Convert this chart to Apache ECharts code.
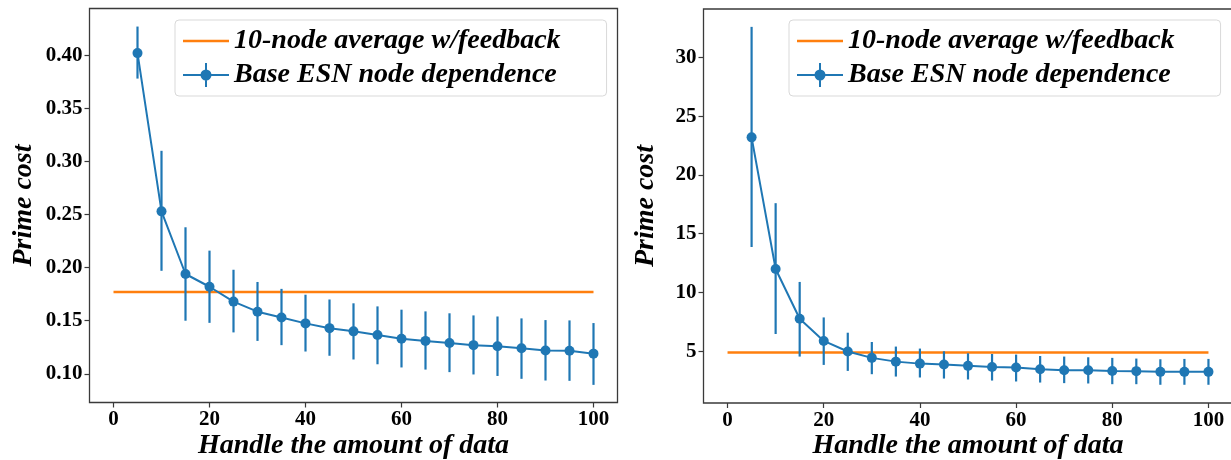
<!DOCTYPE html>
<html>
<head>
<meta charset="utf-8">
<script src="https://cdn.jsdelivr.net/npm/echarts@6/dist/echarts.min.js"></script>
<style>
html,body{margin:0;padding:0;background:#fff;}
#chart{width:1231px;height:460px;}
</style>
</head>
<body>
<div id="chart"></div>
<script>
// ---- data ----
const xValues = [5,10,15,20,25,30,35,40,45,50,55,60,65,70,75,80,85,90,95,100];
const avgX = [0, 100];

const leftMean = [0.402,0.253,0.194,0.182,0.168,0.1585,0.153,0.1475,0.143,0.140,0.1365,0.133,0.131,0.129,0.127,0.126,0.124,0.122,0.1217,0.119];
const leftLow  = [0.378,0.197,0.150,0.148,0.139,0.131,0.127,0.121,0.117,0.1135,0.109,0.106,0.104,0.1016,0.0994,0.098,0.0953,0.0937,0.0934,0.0896];
const leftHigh = [0.427,0.310,0.238,0.216,0.198,0.1865,0.180,0.1745,0.170,0.1664,0.1635,0.1604,0.1588,0.157,0.155,0.154,0.1522,0.1506,0.1503,0.1478];
const leftAvg = 0.177;

const rightMean = [23.2,12.0,7.77,5.88,4.98,4.44,4.12,3.95,3.87,3.76,3.67,3.62,3.47,3.39,3.39,3.33,3.31,3.25,3.25,3.25];
const rightLow  = [13.87,6.47,4.55,3.84,3.33,3.05,2.85,2.77,2.68,2.60,2.51,2.43,2.34,2.29,2.26,2.20,2.20,2.15,2.15,2.15];
const rightHigh = [32.6,17.6,10.9,7.88,6.58,5.79,5.40,5.23,5.00,4.83,4.77,4.72,4.60,4.55,4.49,4.44,4.38,4.32,4.35,4.35];
const rightAvg = 4.89;

const xTicks = [0,20,40,60,80,100];
const leftTicks = [0.10,0.15,0.20,0.25,0.30,0.35,0.40];
const rightTicks = [5,10,15,20,25,30];

const avgName = '10-node average w/feedback';
const baseName = 'Base ESN node dependence';
const xTitle = 'Handle the amount of data';
const yTitle = 'Prime cost';

// ---- styles ----
const BLUE = '#1f77b4', ORANGE = '#ff7f0e', FRAME = '#3a3a3a';
const SERIF = '"Liberation Serif", "DejaVu Serif", serif';

const chart = echarts.init(document.getElementById('chart'), null, {renderer: 'canvas'});

function zip(a, b) { return a.map((v, i) => [v, b[i]]); }
function zip3(a, b, c) { return a.map((v, i) => [v, b[i], c[i]]); }

function xAxis(gi) {
  return {
    type: 'value', gridIndex: gi, min: -5, max: 105,
    splitLine: {show: false},
    axisLine: {show: false, onZero: false},
    axisTick: {show: true, length: 5, customValues: xTicks, lineStyle: {color: FRAME, width: 1.2}},
    axisLabel: {customValues: xTicks, margin: 7, color: '#000', fontFamily: SERIF, fontWeight: 'bold', fontSize: 21},
    name: xTitle, nameLocation: 'middle', nameGap: 29, nameMoveOverlap: false,
    nameTextStyle: {color: '#000', fontFamily: SERIF, fontWeight: 'bold', fontStyle: 'italic', fontSize: 28}
  };
}
function yAxis(gi, min, max, ticks, fmt, gap) {
  return {
    type: 'value', gridIndex: gi, min: min, max: max,
    splitLine: {show: false},
    axisLine: {show: false, onZero: false},
    axisTick: {show: true, length: 5, customValues: ticks, lineStyle: {color: FRAME, width: 1.2}},
    axisLabel: {customValues: ticks, margin: 7, color: '#000', fontFamily: SERIF, fontWeight: 'bold', fontSize: 21, formatter: fmt},
    name: yTitle, nameLocation: 'middle', nameGap: gap, nameMoveOverlap: false,
    nameTextStyle: {color: '#000', fontFamily: SERIF, fontWeight: 'bold', fontStyle: 'italic', fontSize: 28}
  };
}

function errorRender(params, api) {
  const x = api.value(0);
  const p1 = api.coord([x, api.value(1)]);
  const p2 = api.coord([x, api.value(2)]);
  return {type: 'line', shape: {x1: p1[0], y1: p1[1], x2: p2[0], y2: p2[1]},
          style: {stroke: BLUE, lineWidth: 2.2}};
}

const errIcon = 'path://M0,11 L46,11 L46,13 L0,13 Z M22,0 L24,0 L24,24 L22,24 Z M17.5,12 A5.5,5.5 0 1,1 28.5,12 A5.5,5.5 0 1,1 17.5,12 Z';
const lineIcon = 'path://M0,0 L46,0 L46,2.5 L0,2.5 Z';

function legend(left) {
  return {
    left: left, top: 20, orient: 'vertical',
    padding: [7, 46, 7, 8], itemGap: 6,
    itemWidth: 46, itemHeight: 24, symbolKeepAspect: true,
    backgroundColor: '#fff', borderColor: '#d9d9d9', borderWidth: 1, borderRadius: 4,
    itemStyle: {borderWidth: 0},
    textStyle: {color: '#000', fontFamily: SERIF, fontWeight: 'bold', fontStyle: 'italic', fontSize: 28, padding: [0,0,0,0]},
    selectedMode: false,
    data: [{name: avgName, icon: lineIcon}, {name: baseName, icon: errIcon}]
  };
}

function seriesFor(gi, mean, low, high, avg) {
  return [
    {type: 'line', name: avgName, xAxisIndex: gi, yAxisIndex: gi, data: zip(avgX, [avg, avg]),
     symbol: 'none', lineStyle: {color: ORANGE, width: 2.5}, itemStyle: {color: ORANGE}, z: 2, silent: true},
    {type: 'custom', name: 'err' + gi, xAxisIndex: gi, yAxisIndex: gi, data: zip3(xValues, low, high),
     renderItem: errorRender, encode: {x: 0, y: [1, 2]}, z: 3, silent: true},
    {type: 'line', name: baseName, xAxisIndex: gi, yAxisIndex: gi, data: zip(xValues, mean),
     symbol: 'circle', symbolSize: 10, lineStyle: {color: BLUE, width: 2}, itemStyle: {color: BLUE, borderWidth: 0}, z: 4, silent: true}
  ];
}

const option = {
  animation: false,
  backgroundColor: '#fff',
  grid: [
    {left: 89.5, top: 8.5, width: 528, height: 394, show: true, borderColor: FRAME, borderWidth: 1.3,
     backgroundColor: 'transparent', containLabel: false, outerBoundsMode: 'none'},
    {left: 703.5, top: 9, width: 529, height: 394, show: true, borderColor: FRAME, borderWidth: 1.3,
     backgroundColor: 'transparent', containLabel: false, outerBoundsMode: 'none'}
  ],
  xAxis: [xAxis(0), xAxis(1)],
  yAxis: [
    yAxis(0, 0.073, 0.444, leftTicks, v => v.toFixed(2), 52),
    yAxis(1, 0.6, 34.12, rightTicks, v => String(Math.round(v)), 44)
  ],
  legend: [legend(175), legend(789)],
  series: [].concat(
    seriesFor(0, leftMean, leftLow, leftHigh, leftAvg),
    seriesFor(1, rightMean, rightLow, rightHigh, rightAvg)
  )
};
chart.setOption(option);
</script>
</body>
</html>
